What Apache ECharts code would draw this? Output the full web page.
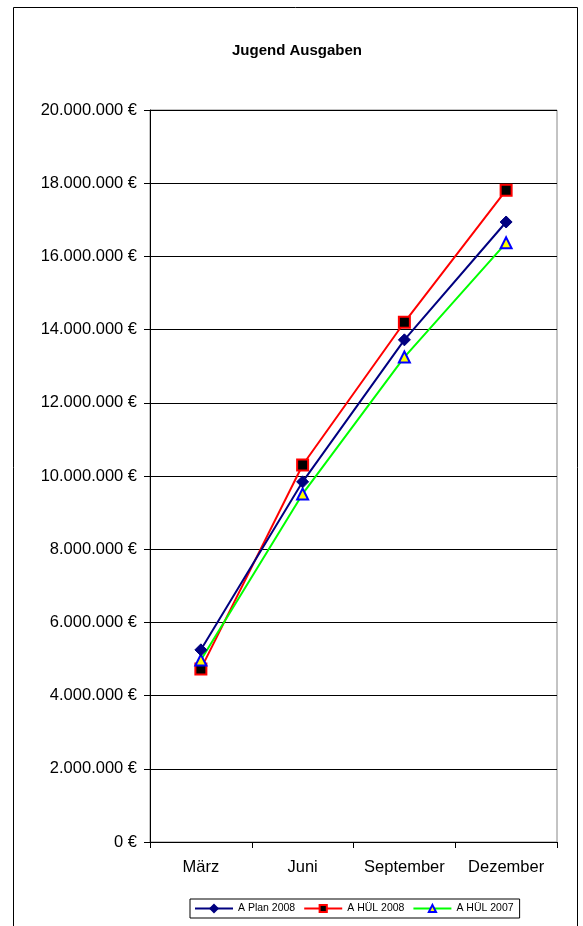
<!DOCTYPE html>
<html><head><meta charset="utf-8">
<script src="https://cdn.jsdelivr.net/npm/echarts@6/dist/echarts.min.js"></script>
<style>html,body{margin:0;padding:0;background:#fff}#c{width:583px;height:926px}</style>
</head><body><div id="c"></div>
<script>
const categories = ['März', 'Juni', 'September', 'Dezember'];
const planA2008 = [5250000, 9840000, 13720000, 16940000];
const huelA2008 = [4730000, 10300000, 14200000, 17810000];
const huelA2007 = [4970000, 9510000, 13250000, 16370000];
const seriesNames = ['A Plan 2008', 'A HÜL 2008', 'A HÜL 2007'];
const yTicks = { min: 0, max: 20000000, interval: 2000000 };

function fmt(v) {
  return String(Math.round(v)).replace(/\B(?=(\d{3})+(?!\d))/g, '.') + ' €';
}
const chart = echarts.init(document.getElementById('c'), null, { renderer: 'canvas' });
const font = 'Liberation Sans, Arial, sans-serif';
chart.setOption({
  animation: false,
  backgroundColor: '#fff',
  title: {
    text: 'Jugend Ausgaben', left: 227, top: 38,
    textStyle: { fontFamily: font, fontSize: 15, fontWeight: 'bold', color: '#000' }
  },
  graphic: [
    { type: 'rect', shape: { x: 13.5, y: 7.5, width: 564, height: 940 },
      style: { fill: 'none', stroke: '#000', lineWidth: 1 }, z: 0 },
    { type: 'rect', shape: { x: 150, y: 110, width: 407, height: 732 },
      style: { fill: 'none', stroke: '#888', lineWidth: 1 }, z: 0 }
  ],
  legend: {
    left: 190, top: 899,
    padding: [4, 6, 4, 4],
    borderColor: '#000', borderWidth: 1,
    itemWidth: 38, itemHeight: 9, itemGap: 8,
    textStyle: { fontFamily: font, fontSize: 10.5, color: '#000' },
    data: seriesNames
  },
  grid: { left: 150, right: 26, top: 110, bottom: 84, containLabel: false },
  xAxis: {
    type: 'category', data: categories, boundaryGap: true,
    axisLine: { lineStyle: { color: '#000', width: 1 } },
    axisTick: { show: true, length: 6, lineStyle: { color: '#000' } },
    axisLabel: { interval: 0, fontFamily: font, fontSize: 16.5, color: '#000', margin: 17 }
  },
  yAxis: {
    type: 'value', min: yTicks.min, max: yTicks.max, interval: yTicks.interval,
    axisLine: { show: true, lineStyle: { color: '#000', width: 1 } },
    axisTick: { show: true, length: 6, lineStyle: { color: '#000' } },
    axisLabel: { fontFamily: font, fontSize: 16.5, color: '#000', margin: 13, formatter: fmt },
    splitLine: { show: true, lineStyle: { color: '#000', width: 1 } }
  },
  series: [
    { name: seriesNames[0], type: 'line', data: planA2008,
      symbol: 'diamond', symbolSize: 12,
      lineStyle: { color: '#000080', width: 2 },
      itemStyle: { color: '#000080', borderColor: '#000080', borderWidth: 1 }, z: 3 },
    { name: seriesNames[1], type: 'line', data: huelA2008,
      symbol: 'rect', symbolSize: 11,
      lineStyle: { color: '#FF0000', width: 2 },
      itemStyle: { color: '#000000', borderColor: '#FF0000', borderWidth: 2 }, z: 2 },
    { name: seriesNames[2], type: 'line', data: huelA2007,
      symbol: 'triangle', symbolSize: 11,
      lineStyle: { color: '#00FF00', width: 2 },
      itemStyle: { color: '#FFFF00', borderColor: '#0000FF', borderWidth: 2 }, z: 2 }
  ]
});
</script></body></html>
